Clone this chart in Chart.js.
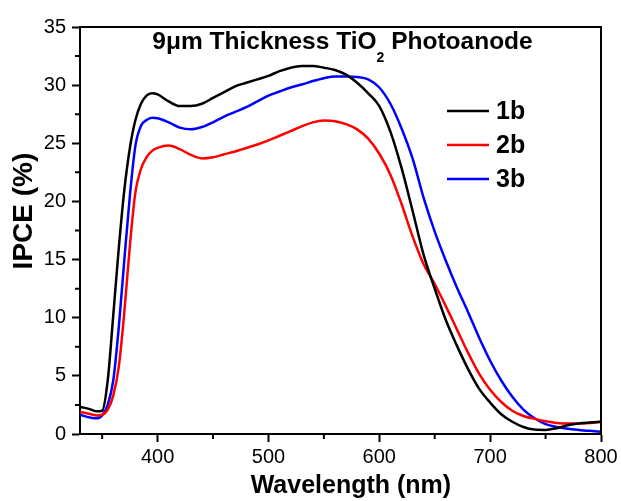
<!DOCTYPE html>
<html><head><meta charset="utf-8">
<script src="https://cdn.jsdelivr.net/npm/chart.js@4/dist/chart.umd.min.js"></script>
<style>html,body{margin:0;padding:0;background:#fff}canvas{display:block}</style>
</head><body>
<canvas id="c" width="621" height="501"></canvas>
<script>
// ---- data ----
const wavelength = [330,340,345,350,355,360,365,370,375,380,385,390,395,400,410,420,430,440,450,460,470,480,490,500,510,520,530,540,550,560,570,580,590,600,610,620,630,640,650,660,670,680,690,700,710,720,730,740,750,760,770,780,790,800];
const ipce1b = [2.35,2.1,1.95,2.0,4.6,10.2,16.0,21.0,24.6,27.0,28.4,29.1,29.3,29.2,28.6,28.2,28.2,28.4,28.9,29.4,29.9,30.2,30.5,30.8,31.2,31.5,31.65,31.65,31.5,31.3,30.9,30.2,29.3,28.2,26.0,22.9,19.2,15.4,12.5,9.8,7.6,5.6,3.9,2.7,1.7,1.05,0.6,0.38,0.35,0.5,0.75,0.9,0.98,1.05];
const ipce2b = [1.9,1.7,1.6,1.65,2.1,3.3,5.8,10.5,16.2,20.8,22.8,23.8,24.35,24.6,24.8,24.5,24.0,23.7,23.8,24.05,24.3,24.6,24.9,25.25,25.65,26.05,26.45,26.8,26.95,26.9,26.65,26.2,25.4,24.1,22.3,19.8,17.0,14.6,12.9,11.0,9.0,7.0,5.2,3.8,2.75,2.0,1.55,1.3,1.1,0.95,0.9,0.9,0.95,1.05];
const ipce3b = [1.65,1.4,1.35,1.6,2.5,4.6,9.2,15.0,20.5,24.8,26.5,27.0,27.2,27.15,26.8,26.35,26.2,26.4,26.8,27.3,27.7,28.1,28.6,29.1,29.45,29.8,30.05,30.35,30.6,30.75,30.75,30.7,30.5,29.8,28.4,26.3,23.7,20.3,17.4,14.9,12.6,10.5,8.3,6.3,4.6,3.2,2.1,1.35,0.85,0.6,0.45,0.35,0.27,0.2];
const seriesLabels = ['1b','2b','3b'];
const seriesColors = ['#000000','#ff0000','#0000ff'];
const xTicks = [400,500,600,700,800];
const xMinorTicks = [350,450,550,650,750];
const yTicks = [0,5,10,15,20,25,30,35];
const yMinorTicks = [2.5,7.5,12.5,17.5,22.5,27.5,32.5];
const titleMain = '9\u03bcm Thickness TiO';
const titleSub = '2';
const titleEnd = ' Photoanode';
const xTitle = 'Wavelength (nm)';
const yTitle = 'IPCE (%)';

const FONT = "'Liberation Sans', Arial, Helvetica, sans-serif";
Chart.defaults.font.family = FONT;
Chart.defaults.color = '#000';

const series = [ipce1b, ipce2b, ipce3b];
const datasets = series.map((s, i) => ({
  label: seriesLabels[i],
  data: wavelength.map((w, j) => ({x: w, y: s[j]})),
  borderColor: seriesColors[i],
  borderWidth: 2.5,
  pointRadius: 0,
  fill: false,
  cubicInterpolationMode: 'monotone'
}));

const decor = {
  id: 'decor',
  afterDraw(chart) {
    const ctx = chart.ctx;
    const a = chart.chartArea;
    const xs = chart.scales.x, ys = chart.scales.y;
    ctx.save();
    // top and right frame
    ctx.strokeStyle = '#000';
    ctx.lineWidth = 2;
    ctx.beginPath();
    ctx.moveTo(a.left, a.top); ctx.lineTo(a.right, a.top); ctx.lineTo(a.right, a.bottom);
    ctx.stroke();
    // minor ticks
    ctx.lineWidth = 2;
    ctx.beginPath();
    xMinorTicks.forEach(v => { const p = xs.getPixelForValue(v); ctx.moveTo(p, a.bottom); ctx.lineTo(p, a.bottom + 5); });
    yMinorTicks.forEach(v => { const p = ys.getPixelForValue(v); ctx.moveTo(a.left, p); ctx.lineTo(a.left - 5, p); });
    ctx.stroke();
    // title inside plot
    ctx.fillStyle = '#000';
    ctx.textBaseline = 'alphabetic';
    const fMain = 'bold 24.5px ' + FONT, fSub = 'bold 14px ' + FONT;
    ctx.font = fMain; const w1 = ctx.measureText(titleMain).width; const w3 = ctx.measureText(titleEnd).width;
    ctx.font = fSub; const w2 = ctx.measureText(titleSub).width;
    let x = (a.left + a.right) / 2 + 2 - (w1 + w2 + w3) / 2;
    const base = a.top + 21.5;
    ctx.font = fMain; ctx.fillText(titleMain, x, base); x += w1;
    ctx.font = fSub; ctx.fillText(titleSub, x, base + 13); x += w2;
    ctx.font = fMain; ctx.fillText(titleEnd, x, base);
    // legend
    ctx.font = 'bold 25px ' + FONT;
    ctx.textBaseline = 'middle';
    chart.data.datasets.forEach((d, i) => {
      const y = a.top + 84 + i * 34;
      ctx.strokeStyle = d.borderColor; ctx.lineWidth = 2.5;
      ctx.beginPath(); ctx.moveTo(a.right - 154, y); ctx.lineTo(a.right - 112, y); ctx.stroke();
      ctx.fillText(d.label, a.right - 105, y + 1);
    });
    ctx.restore();
  }
};

new Chart(document.getElementById('c'), {
  type: 'line',
  data: { datasets },
  options: {
    responsive: false,
    animation: false,
    devicePixelRatio: 1,
    layout: { padding: { top: 27, right: 20, left: 0, bottom: 0 } },
    plugins: { legend: { display: false }, tooltip: { enabled: false }, title: { display: false } },
    scales: {
      x: {
        type: 'linear', min: 330, max: 800,
        afterBuildTicks: s => { s.ticks = xTicks.map(v => ({ value: v })); },
        afterFit: s => { s.height = 67; },
        ticks: { font: { size: 20 }, color: '#000', padding: 3, maxRotation: 0 },
        grid: { drawOnChartArea: false, drawTicks: true, tickLength: 8, tickColor: '#000', tickWidth: 2 },
        border: { color: '#000', width: 2 },
        title: { display: true, text: '   ' + xTitle, font: { size: 25, weight: 'bold' }, color: '#000', padding: { top: 2, bottom: 0 } }
      },
      y: {
        type: 'linear', min: 0, max: 35,
        afterBuildTicks: s => { s.ticks = yTicks.map(v => ({ value: v })); },
        afterFit: s => { s.width = 80; },
        ticks: { font: { size: 20 }, color: '#000', padding: 6 },
        grid: { drawOnChartArea: false, drawTicks: true, tickLength: 8, tickColor: '#000', tickWidth: 2 },
        border: { color: '#000', width: 2 },
        title: { display: true, text: '     ' + yTitle, font: { size: 28, weight: 'bold' }, color: '#000', padding: { top: 7, bottom: 0 } }
      }
    }
  },
  plugins: [decor]
});
</script>
</body></html>
